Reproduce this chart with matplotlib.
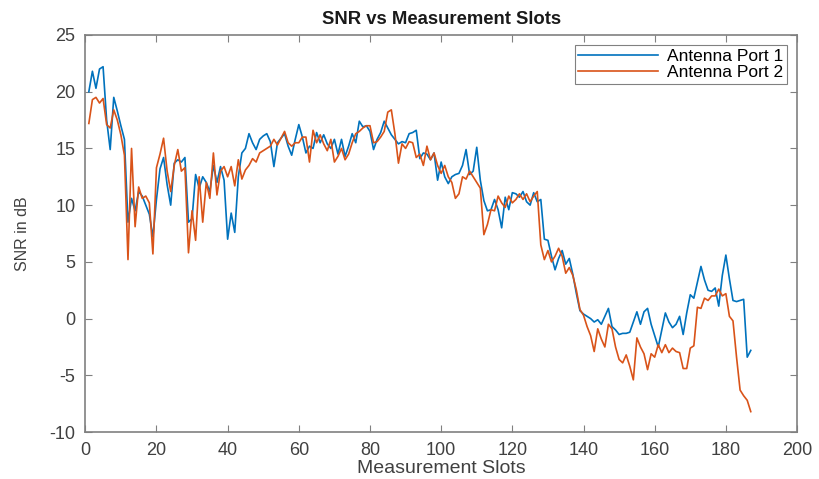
import matplotlib
matplotlib.use("Agg")
import matplotlib.pyplot as plt
import numpy as np

port1_snr = [
    20.0, 21.8, 20.3, 22.0, 22.2, 17.5, 14.9, 19.5, 18.3, 17.0,
    15.8, 8.5, 10.6, 9.5, 11.2, 10.8, 10.0, 9.2, 7.2, 10.5,
    13.2, 14.2, 11.8, 10.0, 13.7, 14.0, 13.8, 14.2, 8.5, 8.8,
    12.7, 11.5, 12.5, 12.0, 11.2, 13.5, 12.0, 13.4, 12.2, 7.0,
    9.3, 7.6, 12.5, 14.6, 15.0, 16.3, 15.5, 14.9, 15.8, 16.1,
    16.3, 15.6, 13.4, 15.5, 15.9, 16.3, 15.2, 14.4, 15.8, 17.1,
    16.0, 14.6, 15.2, 15.0, 16.4, 15.5, 16.2, 15.4, 15.0, 15.8,
    14.5, 15.8, 14.3, 15.2, 16.3, 15.5, 17.4, 16.9, 17.0, 16.5,
    14.9, 15.8, 16.4, 17.4, 16.8, 16.2, 15.8, 15.4, 15.6, 15.5,
    16.3, 16.4, 16.6, 14.1, 14.6, 14.5, 14.0, 14.6, 12.2, 13.8,
    12.5, 11.9, 12.5, 12.7, 12.8, 13.5, 14.9, 12.7, 13.0, 15.1,
    12.2, 10.4, 9.5, 9.6, 10.5, 9.6, 8.0, 10.7, 9.6, 11.1,
    11.0, 10.7, 11.2, 10.3, 10.0, 11.1, 10.3, 10.5, 7.0, 6.9,
    5.5, 4.3, 5.3, 6.0, 4.8, 5.3, 3.9, 2.2, 0.7, 0.4,
    0.2, 0.0, -0.3, -0.1, -0.5, 0.2, 0.9, -0.7, -1.0, -1.4,
    -1.3, -1.3, -1.2, -0.3, 0.6, -0.5, 0.6, 0.9, -0.5, -1.5,
    -2.5, -1.0, 0.5, -0.3, -0.8, -0.5, 0.2, -1.4, 0.5, 2.1,
    1.8, 3.2, 4.6, 3.4, 2.5, 2.4, 2.7, 1.1, 3.8, 5.6,
    3.5, 1.6, 1.5, 1.6, 1.7, -3.4, -2.8,
]

port2_snr = [
    17.2, 19.3, 19.5, 19.0, 19.4, 17.1, 16.8, 18.4, 17.5, 16.2,
    14.4, 5.2, 15.0, 8.1, 11.6, 10.6, 10.8, 10.2, 5.7, 13.3,
    14.5, 15.9, 13.0, 11.2, 13.5, 14.9, 13.0, 13.3, 5.8, 9.5,
    6.9, 12.5, 8.5, 12.0, 10.6, 14.6, 10.9, 13.0, 13.4, 12.5,
    13.4, 11.7, 14.0, 12.3, 13.1, 13.5, 14.1, 13.8, 14.6, 14.8,
    15.0, 15.2, 15.8, 15.3, 15.9, 16.5, 15.5, 15.2, 15.5, 15.5,
    16.0, 16.0, 13.8, 16.6, 15.5, 16.2, 15.4, 14.8, 15.8, 13.8,
    14.3, 15.0, 14.0, 14.5, 15.5, 16.3, 16.5, 16.8, 17.0, 17.0,
    15.5, 15.6, 16.0, 16.5, 18.2, 18.4, 16.3, 13.7, 15.4, 15.0,
    15.6, 15.5, 14.2, 14.5, 13.5, 15.2, 14.0, 14.6, 13.5, 12.8,
    13.5, 12.5, 12.0, 10.6, 11.0, 12.5, 12.3, 13.0, 12.5, 12.0,
    11.5, 7.4, 8.3, 9.6, 9.5, 10.8, 10.2, 9.8, 10.8, 10.2,
    10.5, 11.0, 10.5, 11.0, 10.3, 10.8, 11.2, 6.5, 5.2, 6.0,
    5.0, 5.5, 6.2, 5.5, 4.0, 4.5, 3.8, 2.5, 0.8, 0.3,
    -0.7, -1.5, -2.9, -0.9, -1.8, -2.5, -0.5, -0.9, -2.5, -3.6,
    -3.9, -3.2, -4.2, -5.4, -1.7, -2.5, -3.1, -4.5, -3.1, -3.4,
    -2.3, -3.0, -2.3, -3.0, -2.6, -2.9, -3.0, -4.4, -4.4, -2.6,
    -2.4, 1.0, 0.9, 1.8, 1.6, 2.0, 2.0, 2.6, 2.0, 2.2,
    0.2, -0.2, -3.4, -6.3, -6.8, -7.2, -8.2,
]

slots = np.arange(1, len(port1_snr) + 1)
labels = ["Antenna Port 1", "Antenna Port 2"]

plt.rcParams["font.family"] = ["Liberation Sans", "DejaVu Sans"]
plt.rcParams["axes.unicode_minus"] = False

AX_CLR = "#808080"
TXT_CLR = "#404040"

fig = plt.figure(figsize=(8.2, 4.79), dpi=100)
ax = fig.add_axes([0.104, 0.098, 0.868, 0.829])

ax.plot(slots, port1_snr, color="#0072BD", lw=1.2, label=labels[0])
ax.plot(slots, port2_snr, color="#D95319", lw=1.2, label=labels[1])

ax.set_xlim(0, 200)
ax.set_ylim(-10, 25)
ax.set_xticks(np.arange(0, 201, 20))
ax.set_yticks(np.arange(-10, 26, 5))

ax.tick_params(direction="in", top=True, right=True, length=5, width=0.8,
               color=AX_CLR, labelcolor=TXT_CLR, labelsize=13, pad=7)
for spine in ax.spines.values():
    spine.set_color(AX_CLR)
    spine.set_linewidth(1.2)

ax.set_title("SNR vs Measurement Slots", fontsize=13.3, fontweight="bold",
             color="#1a1a1a", pad=8)
ax.set_xlabel("Measurement Slots", fontsize=14, color=TXT_CLR, labelpad=1)
ax.set_ylabel("SNR in dB", fontsize=11.5, color=TXT_CLR)
ax.yaxis.set_label_coords(-0.078, 0.5)

leg = ax.legend(loc="upper right", fontsize=12.5, handlelength=4.6,
                fancybox=False, framealpha=1, edgecolor=AX_CLR,
                borderaxespad=0.6, borderpad=0.2, labelspacing=0.05,
                handletextpad=0.5)
leg.get_frame().set_linewidth(0.8)

fig.savefig("out.png", dpi=100, facecolor="white")
